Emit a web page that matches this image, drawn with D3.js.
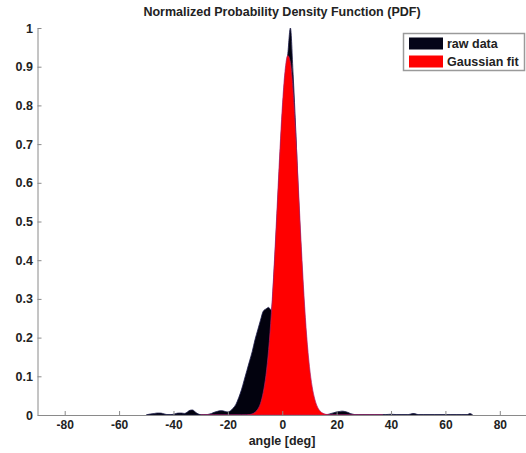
<!DOCTYPE html>
<html>
<head>
<meta charset="utf-8">
<script src="https://cdn.jsdelivr.net/npm/d3@7"></script>
<style>
  html, body { margin: 0; padding: 0; background: #fff; }
  svg { display: block; }
  text { font-family: "Liberation Sans", Arial, sans-serif; font-weight: bold; fill: #222; }
</style>
</head>
<body>
<svg id="chart" width="526" height="453"></svg>
<script>
// ---- data ----
const title = "Normalized Probability Density Function (PDF)";
const xLabel = "angle [deg]";
const xTicks = [-80, -60, -40, -20, 0, 20, 40, 60, 80];
const yTicks = [0, 0.1, 0.2, 0.3, 0.4, 0.5, 0.6, 0.7, 0.8, 0.9, 1];
const seriesNames = ["raw data", "Gaussian fit"];

const rawAngle = [-50,-49,-48,-47,-46,-45,-44,-43,-42,-41,-40,-39,-38,-37,-36,-35,-34,-33,-32,-31,-30,-29,-28,-27,-26,-25,-24,-23,-22,-21,-20,-19,-18,-17,-16,-15,-14,-13,-12,-11,-10,-9,-8,-7,-6,-5,-4,-3,-2,-1,0,1,2,3,4,5,6,7,8,9,10,11,12,13,14,15,16,17,18,19,20,21,22,23,24,25,26,27,28,30,32,34,36,38,40,42,44,46,47,48,49,50,52,54,56,58,60,62,64,66,68,69,70];
const rawValue = [0,0.002,0.003,0.004,0.005,0.005,0.004,0.002,0.001,0.001,0.002,0.004,0.005,0.005,0.004,0.007,0.012,0.013,0.008,0.003,0.001,0.001,0.001,0.002,0.004,0.007,0.009,0.011,0.011,0.009,0.008,0.011,0.018,0.028,0.045,0.065,0.09,0.115,0.14,0.165,0.195,0.22,0.245,0.268,0.274,0.278,0.27,0.37,0.5,0.64,0.77,0.87,0.93,1.0,0.88,0.73,0.56,0.41,0.28,0.18,0.1,0.05,0.025,0.01,0.004,0.002,0.001,0.002,0.004,0.006,0.008,0.009,0.01,0.009,0.007,0.004,0.002,0.001,0.001,0.001,0.001,0.001,0.001,0.001,0.002,0.001,0.001,0.001,0.002,0.004,0.003,0.001,0.001,0.001,0.001,0.001,0.001,0.001,0.001,0.001,0.001,0.004,0];

const fitAngle = [-30,-25,-20,-15,-13,-12,-11,-10,-9,-8,-7,-6,-5,-4,-3,-2,-1,0,1,2,3,4,5,6,7,8,9,10,11,12,13,14,15,16,17,18,20,25,30,37];
const fitValue = [0,0,0,0,0.0003,0.0012,0.003,0.007,0.015,0.030,0.058,0.102,0.169,0.263,0.382,0.521,0.664,0.793,0.887,0.929,0.911,0.836,0.719,0.578,0.436,0.308,0.203,0.126,0.073,0.040,0.020,0.0096,0.0043,0.0018,0.0007,0.0002,0,0,0,0];

// ---- drawing ----
const svg = d3.select("#chart");
const x = d3.scaleLinear().domain([-90, 90]).range([37.5, 527]);
const y = d3.scaleLinear().domain([0, 1]).range([415, 28]);

const rawPts = rawAngle.map((a, i) => [a, rawValue[i]]);
const fitPts = fitAngle.map((a, i) => [a, fitValue[i]]);

const area = d3.area()
  .x(d => x(d[0]))
  .y0(y(0))
  .y1(d => y(d[1]))
  .curve(d3.curveMonotoneX);

svg.append("path").datum(rawPts)
  .attr("d", area)
  .attr("fill", "#02020e")
  .attr("stroke", "#1c1c4a")
  .attr("stroke-width", 0.8);

svg.append("path").datum(fitPts)
  .attr("d", area)
  .attr("fill", "#ff0000")
  .attr("stroke", "#b0206a")
  .attr("stroke-width", 0.7);

// axes
const axisColor = "#8a8a8a";
const gx = svg.append("g").attr("transform", `translate(0,${y(0)})`)
  .call(d3.axisBottom(x).tickValues(xTicks).tickFormat(d => String(d))
    .tickSizeInner(-4).tickSizeOuter(0).tickPadding(5.5));
const gy = svg.append("g").attr("transform", `translate(${x(-90)},0)`)
  .call(d3.axisLeft(y).tickValues(yTicks).tickFormat(d => String(d))
    .tickSizeInner(-4).tickSizeOuter(0).tickPadding(4.5));
[gx, gy].forEach(g => {
  g.select(".domain").attr("stroke", axisColor);
  g.selectAll(".tick line").attr("stroke", axisColor);
  g.selectAll(".tick text").attr("font-size", 12.5).attr("font-family", null).attr("fill", "#222");
});
gx.selectAll(".tick text").attr("font-size", 12);
gx.select(".domain").raise();

// title & label
svg.append("text").attr("x", 282).attr("y", 16).attr("text-anchor", "middle")
  .attr("font-size", 12.5).text(title);
svg.append("text").attr("x", 282).attr("y", 445).attr("text-anchor", "middle")
  .attr("font-size", 12.5).text(xLabel);

// legend
const lg = svg.append("g");
lg.append("rect").attr("x", 403.5).attr("y", 33.5).attr("width", 121).attr("height", 37)
  .attr("fill", "#fff").attr("stroke", "#9a9a9a").attr("stroke-width", 1.5);
const swatchColors = ["#050518", "#ff0000"];
seriesNames.forEach((name, i) => {
  lg.append("rect").attr("x", 409).attr("y", 37.5 + i * 18).attr("width", 34).attr("height", 12)
    .attr("fill", swatchColors[i]);
  lg.append("text").attr("x", 447).attr("y", 48 + i * 18).attr("font-size", 12.5).text(name);
});
</script>
</body>
</html>
